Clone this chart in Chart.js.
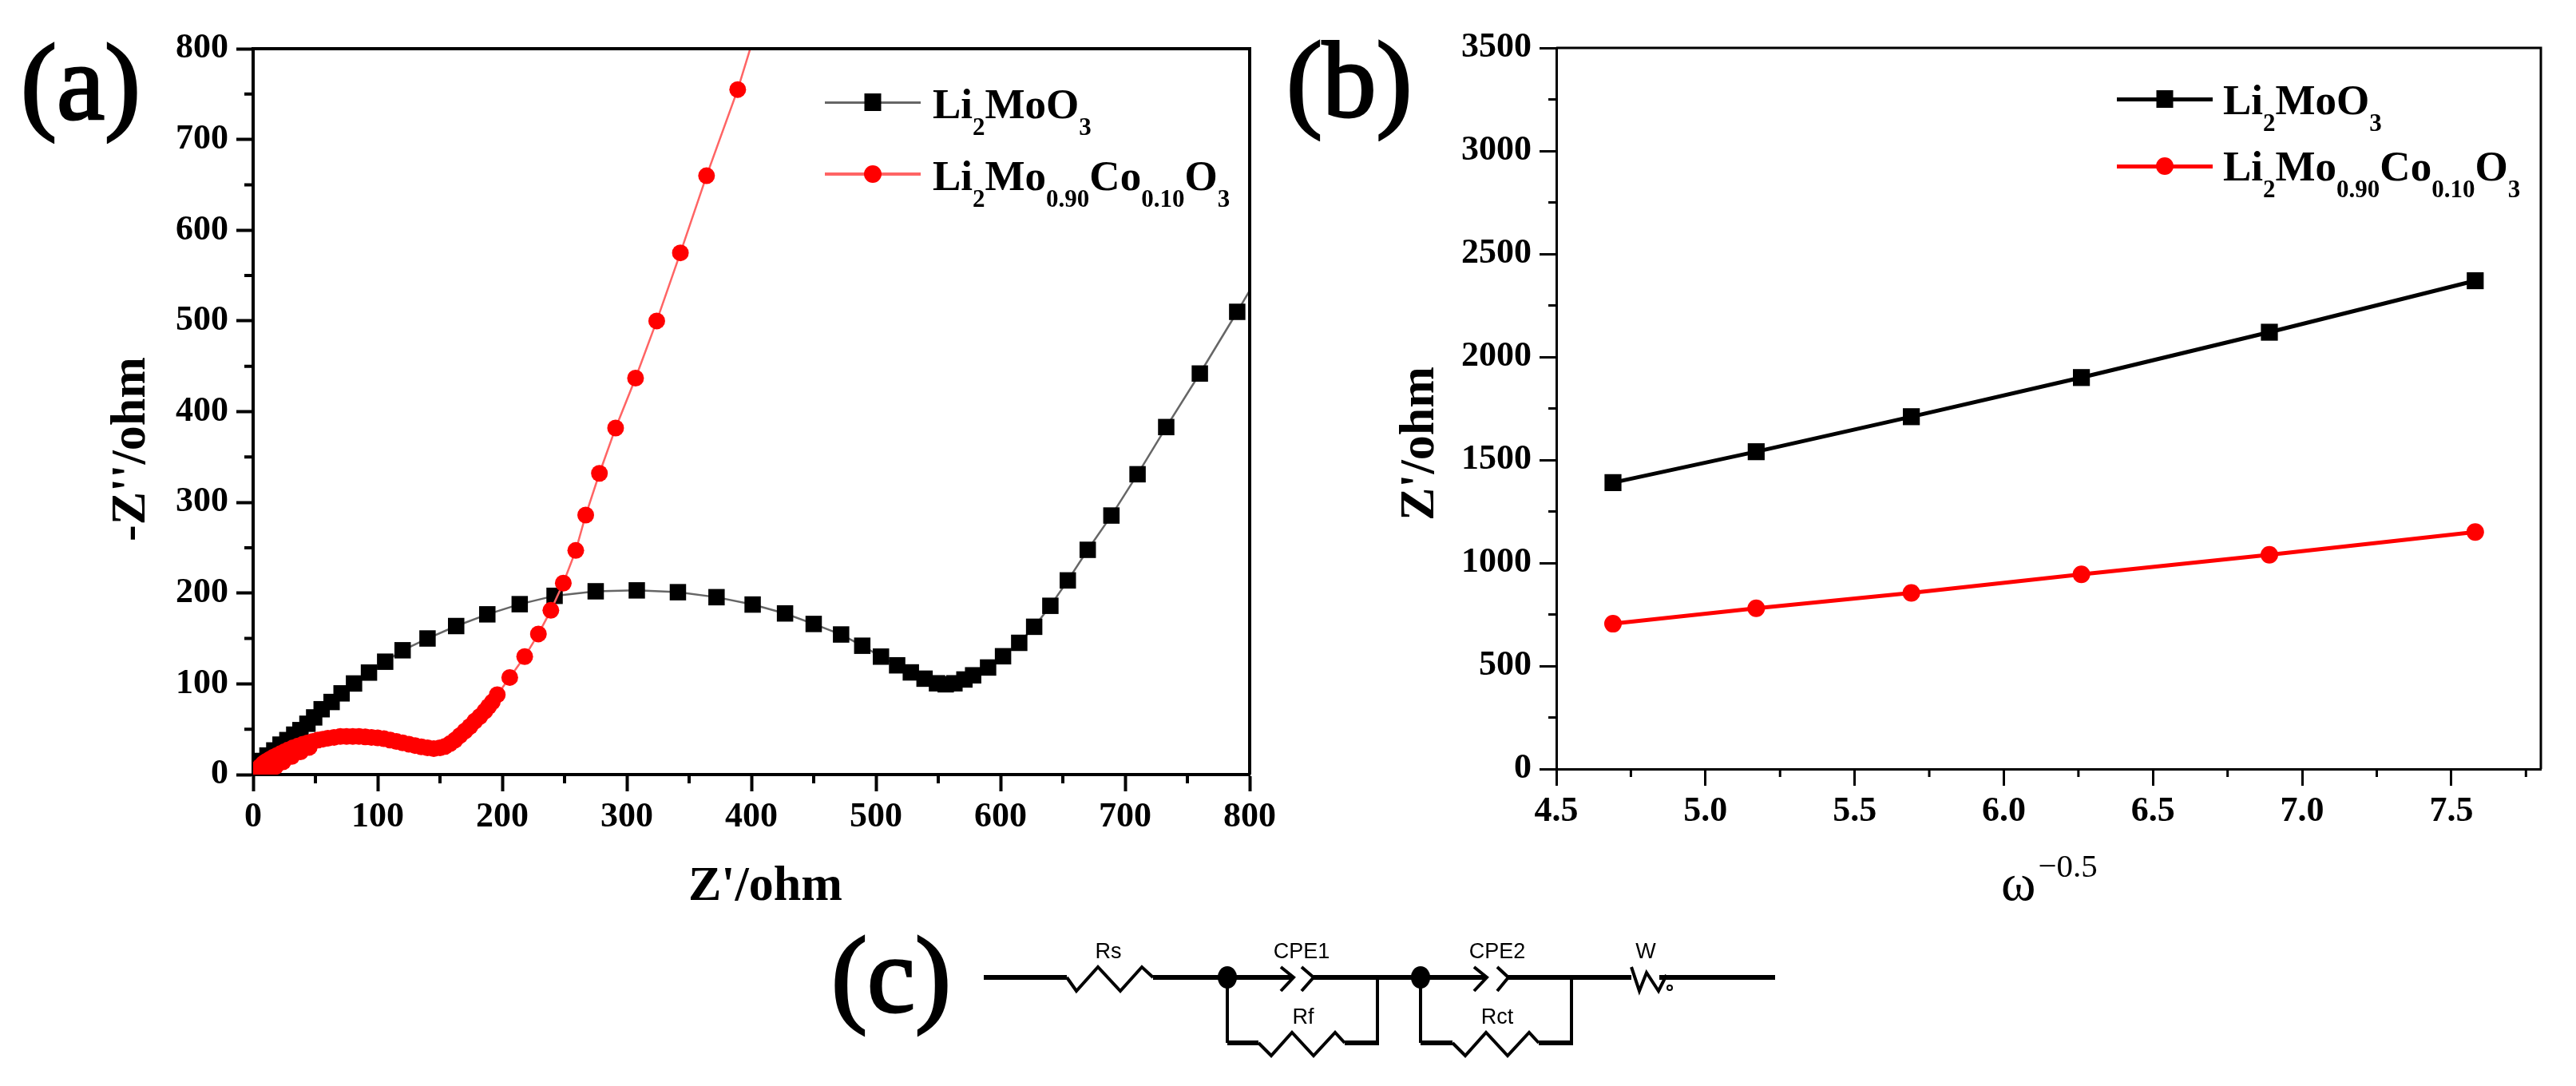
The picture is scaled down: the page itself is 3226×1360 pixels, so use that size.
<!DOCTYPE html>
<html>
<head>
<meta charset="utf-8">
<title>Li2MoO3 impedance</title>
<script src="https://cdn.jsdelivr.net/npm/chart.js@4"></script>
<style>
    html, body { margin: 0; background: #fff; }
    body { position: relative; width: 3226px; height: 1360px; overflow: hidden; font-family: 'Liberation Serif', serif; color: #000; }
    canvas { position: absolute; top: 0; }
    #chart-a { left: 0; }
    #chart-b { left: 1620px; }
    #circuit { position: absolute; left: 0; top: 0; }
    .t { position: absolute; white-space: nowrap; line-height: 1; font-weight: bold; }
    .letter { font-size: 135px; font-weight: normal; -webkit-text-stroke: 3px #000; }
    .title { font-size: 62px; }
    .vert { transform: rotate(-90deg); transform-origin: 0 0; }
    .legend { font-size: 53px; }
    .legend sub { font-size: 31px; vertical-align: -21px; line-height: 0; }
    .omega { font-size: 66px; font-weight: normal; }
    .omega sup { font-size: 41px; vertical-align: 29px; line-height: 0; margin-left: 3px; }
    .swatch { position: absolute; width: 120px; }
    .swatch i { position: absolute; left: 0; right: 0; }
    .swatch b { position: absolute; left: 50%; top: 50%; transform: translate(-50%, -50%); }
    .black i { background: #666; }
    .red i { background: #ff6464; }
    .black b { background: #000; width: 21px; height: 22px; }
    .red b { background: #f00; width: 22px; height: 22px; border-radius: 50%; }
</style>
</head>
<body>
<canvas id="chart-a" width="1620" height="1100"></canvas>
<canvas id="chart-b" width="1606" height="1100"></canvas>

<div class="t letter" style="left:26px;top:36px">(a)</div>
<div class="t letter" style="left:1611px;top:33px">(b)</div>
<div class="t letter" style="left:1041px;top:1154px">(c)</div>

<div class="t title vert" style="left:129px;top:678px">-Z''/ohm</div>
<div class="t title" style="left:862px;top:1075px">Z'/ohm</div>
<div class="t title vert" style="left:1743px;top:652px">Z'/ohm</div>
<div class="t omega" style="left:2506px;top:1072px">ω<sup>−0.5</sup></div>

<div class="swatch black" style="left:1033px;top:128px"><i style="top:-1px;height:3px"></i><b></b></div>
<div class="t legend" style="left:1168px;top:104px">Li<sub>2</sub>MoO<sub>3</sub></div>
<div class="swatch red" style="left:1033px;top:218px"><i style="top:-2px;height:4px"></i><b></b></div>
<div class="t legend" style="left:1168px;top:194px">Li<sub>2</sub>Mo<sub>0.90</sub>Co<sub>0.10</sub>O<sub>3</sub></div>

<div class="swatch black" style="left:2651px;top:124px"><i style="top:-2px;height:5px;background:#000"></i><b></b></div>
<div class="t legend" style="left:2784px;top:99px">Li<sub>2</sub>MoO<sub>3</sub></div>
<div class="swatch red" style="left:2651px;top:208px"><i style="top:-2px;height:5px;background:#f00"></i><b></b></div>
<div class="t legend" style="left:2784px;top:182px">Li<sub>2</sub>Mo<sub>0.90</sub>Co<sub>0.10</sub>O<sub>3</sub></div>

<!-- equivalent circuit (c) -->
<svg id="circuit" width="3226" height="1360" fill="none" stroke="#000" stroke-linejoin="miter" font-family="'Liberation Sans', sans-serif">
    <g stroke-width="6">
        <path d="M1232 1224H1336"/>
        <path d="M1444 1224H1618"/>
        <path d="M1645 1224H1860"/>
        <path d="M1889 1224H2043"/>
        <path d="M2078 1224H2223"/>
    </g>
    <g stroke-width="4">
        <path d="M1336 1224L1348 1241L1375 1211L1403 1241L1430 1211L1444 1224"/>
        <path d="M1604 1211L1620 1224L1604 1241"/>
        <path d="M1630 1211L1645 1224L1630 1241"/>
        <path d="M1846 1211L1862 1224L1846 1241"/>
        <path d="M1875 1211L1889 1224L1875 1241"/>
        <path d="M2043 1211L2053 1241L2062 1218L2077 1241L2087 1221"/>
        <path d="M1537 1224V1306"/>
        <path d="M1725 1224V1306"/>
        <path d="M1779 1224V1306"/>
        <path d="M1968 1224V1306"/>
        <path d="M1576 1306L1592 1322L1618 1293L1645 1322L1672 1293L1684 1306"/>
        <path d="M1819 1306L1835 1322L1861 1293L1888 1322L1915 1293L1927 1306"/>
        <circle cx="2091" cy="1237" r="3" stroke-width="2"/>
    </g>
    <g stroke-width="6">
        <path d="M1537 1306H1576"/>
        <path d="M1684 1306H1727"/>
        <path d="M1779 1306H1819"/>
        <path d="M1927 1306H1970"/>
    </g>
    <ellipse cx="1537" cy="1224" rx="12" ry="14" fill="#000" stroke="none"/>
    <ellipse cx="1779" cy="1224" rx="12" ry="14" fill="#000" stroke="none"/>
    <g fill="#000" stroke="none" font-size="27" text-anchor="middle">
        <text x="1388" y="1200">Rs</text>
        <text x="1630" y="1200">CPE1</text>
        <text x="1875" y="1200">CPE2</text>
        <text x="2061" y="1200">W</text>
        <text x="1632" y="1282">Rf</text>
        <text x="1875" y="1282">Rct</text>
    </g>
</svg>

<script>
// === (a) Nyquist ===
const nyquistBlackX = [1, 4, 7, 11.5, 17, 22, 27.5, 33, 38, 43.6, 49, 55, 63, 71, 81, 93, 106, 120, 140, 163, 188, 214, 242, 275, 308, 341, 372, 401, 427, 450, 472, 489, 504, 517, 528, 539, 549, 556, 563, 571, 578, 590, 602, 615, 627, 640, 654, 670, 689, 710, 733, 760, 790, 822];
const nyquistBlackY = [4, 9.5, 15, 21, 26.6, 33, 38, 44, 49, 56, 63, 72, 80, 89.5, 100.4, 112.4, 124.4, 137, 150, 163.7, 176.6, 187.8, 197, 202, 203, 201, 195.5, 187.4, 177.6, 166, 154.4, 142, 130, 120.4, 112.6, 105.7, 100.6, 99.5, 100.6, 104.8, 109.4, 118, 130.4, 145.2, 162.9, 186, 214, 247.7, 285.5, 331, 383, 442, 510, 585];
const nyquistRedX = [45, 38, 31, 24, 18, 12, 2, 4, 6, 8, 10, 13, 16, 19, 22, 25, 28, 32, 36, 40, 44, 48, 52, 56, 60, 65, 70, 75, 80, 85, 90, 95, 100, 105, 110, 115, 120, 125, 130, 135, 140, 145, 150, 154, 158, 162, 166, 170, 174, 178, 182, 186, 189, 192, 196, 206, 218, 229, 239, 249, 259, 267, 278, 291, 307, 324, 343, 364, 389, 408];
const nyquistRedY = [30, 25, 20, 14, 9, 6, 2, 6, 9, 12, 14, 16.5, 19, 21, 23, 25, 27, 29.5, 31.5, 33.5, 35, 36.5, 38, 39, 40, 41, 42, 42, 42, 42, 41.5, 41, 40.5, 39.5, 38, 36.5, 35, 33.5, 32, 30.5, 29.5, 28.5, 29.5, 31, 34, 38, 43, 48, 53, 59, 64, 70, 75, 80, 88, 107, 130, 155, 181, 211, 247, 286, 332, 382, 437, 500, 575, 660, 755, 840];
const nyquistTicks = [0, 100, 200, 300, 400, 500, 600, 700, 800];
const nyquistMinor = [50, 150, 250, 350, 450, 550, 650, 750];

// === (b) Warburg ===
const warburgX = [4.69, 5.17, 5.69, 6.26, 6.89, 7.58];
const warburgBlack = [1390, 1540, 1710, 1900, 2120, 2370];
const warburgRed = [705, 780, 855, 945, 1040, 1150];
const warburgTicksX = [4.5, 5.0, 5.5, 6.0, 6.5, 7.0, 7.5];
const warburgMinorX = [4.75, 5.25, 5.75, 6.25, 6.75, 7.25, 7.75];
const warburgTicksY = [0, 500, 1000, 1500, 2000, 2500, 3000, 3500];
const warburgMinorY = [250, 750, 1250, 1750, 2250, 2750, 3250];

const BLACK = '#000', RED = '#ff0000';

// Chart.js has no minor ticks nor a closed frame: both are added here
const axisExtras = {
    id: 'axisExtras',
    afterDatasetsDraw(chart, args, opts) {
        const { ctx, chartArea: area, scales } = chart;
        ctx.save();
        ctx.strokeStyle = BLACK;
        ctx.lineWidth = opts.lineWidth;
        ctx.beginPath();
        ctx.moveTo(area.left, area.top);
        ctx.lineTo(area.right, area.top);
        ctx.lineTo(area.right, area.bottom);
        opts.minorX.forEach(v => {
            const x = scales.x.getPixelForValue(v);
            ctx.moveTo(x, area.bottom);
            ctx.lineTo(x, area.bottom + opts.minorLength);
        });
        opts.minorY.forEach(v => {
            const y = scales.y.getPixelForValue(v);
            ctx.moveTo(area.left, y);
            ctx.lineTo(area.left - opts.minorLength, y);
        });
        ctx.stroke();
        ctx.restore();
    }
};

function xy(xs, ys) {
    return xs.map((x, i) => ({ x: x, y: ys[i] }));
}

function axis(min, max, ticks, format, boxSize, lineWidth, tickPadding) {
    return {
        type: 'linear',
        min: min,
        max: max,
        afterBuildTicks: scale => { scale.ticks = ticks.map(v => ({ value: v })); },
        afterFit: scale => {
            if (scale.isHorizontal()) scale.height = boxSize; else scale.width = boxSize;
        },
        border: { color: BLACK, width: lineWidth },
        grid: { drawOnChartArea: false, color: BLACK, tickColor: BLACK, tickLength: 21, tickWidth: lineWidth },
        ticks: {
            color: BLACK,
            padding: tickPadding,
            maxRotation: 0,
            autoSkip: false,
            font: { family: "'Liberation Serif', serif", size: 44, weight: 'bold' },
            callback: format
        }
    };
}

function makeChart(id, datasets, padding, xAxis, yAxis, extras) {
    return new Chart(document.getElementById(id), {
        type: 'scatter',
        data: { datasets: datasets },
        plugins: [axisExtras],
        options: {
            responsive: false,
            animation: false,
            devicePixelRatio: 1,
            layout: { padding: padding },
            scales: { x: xAxis, y: yAxis },
            plugins: {
                legend: { display: false },
                tooltip: { enabled: false },
                axisExtras: extras
            }
        }
    });
}

makeChart('chart-a',
    [
        {
            label: 'Li2Mo0.90Co0.10O3', data: xy(nyquistRedX, nyquistRedY), showLine: true, order: 0,
            borderColor: '#ff6464', borderWidth: 2.5,
            pointStyle: 'circle', pointRadius: 10.5, pointBackgroundColor: RED, pointBorderWidth: 0
        },
        {
            label: 'Li2MoO3', data: xy(nyquistBlackX, nyquistBlackY), showLine: true, order: 1,
            borderColor: '#666', borderWidth: 2.5,
            pointStyle: 'rect', pointRadius: 14.5, pointBackgroundColor: BLACK, pointBorderWidth: 0
        }
    ],
    { left: 100, right: 55, top: 61, bottom: 30 },
    axis(0, 800, nyquistTicks, v => String(v), 100, 4, 6),
    axis(0, 800, nyquistTicks, v => String(v), 217, 4, 10),
    { minorX: nyquistMinor, minorY: nyquistMinor, minorLength: 11, lineWidth: 4 }
);

makeChart('chart-b',
    [
        {
            label: 'Li2Mo0.90Co0.10O3', data: xy(warburgX, warburgRed), showLine: true, order: 0,
            borderColor: RED, borderWidth: 5,
            pointStyle: 'circle', pointRadius: 11, pointBackgroundColor: RED, pointBorderWidth: 0
        },
        {
            label: 'Li2MoO3', data: xy(warburgX, warburgBlack), showLine: true, order: 1,
            borderColor: BLACK, borderWidth: 5,
            pointStyle: 'rect', pointRadius: 15, pointBackgroundColor: BLACK, pointBorderWidth: 0
        }
    ],
    { left: 100, right: 44, top: 60, bottom: 37 },
    axis(4.5, 7.8, warburgTicksX, v => v.toFixed(1), 100, 3, 6),
    axis(0, 3500, warburgTicksY, v => String(v), 229, 3, 10),
    { minorX: warburgMinorX, minorY: warburgMinorY, minorLength: 10, lineWidth: 3 }
);
</script>
</body>
</html>
